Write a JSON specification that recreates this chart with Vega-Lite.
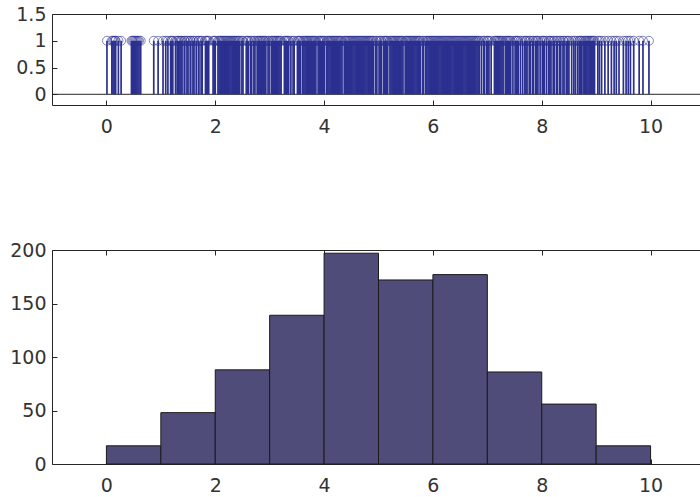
{
  "$schema": "https://vega.github.io/schema/vega-lite/v6.json",
  "autosize": {"type": "pad"},
  "padding": {"left": 9, "top": 4, "right": 0, "bottom": 0},
  "background": "white",
  "spacing": 145,
  "bounds": "flush",
  "datasets": {
    "stems": [
      {"x":0.01,"y":1},{"x":0.10,"y":1},{"x":0.12,"y":1},{"x":0.14,"y":1},{"x":0.16,"y":1},{"x":0.17,"y":1},{"x":0.22,"y":1},{"x":0.27,"y":1},{"x":0.46,"y":1},{"x":0.48,"y":1},{"x":0.50,"y":1},{"x":0.52,"y":1},{"x":0.54,"y":1},{"x":0.56,"y":1},{"x":0.58,"y":1},{"x":0.60,"y":1},{"x":0.63,"y":1},{"x":0.87,"y":1},{"x":0.95,"y":1},
      {"x":1.04,"y":1},{"x":1.09,"y":1},{"x":1.13,"y":1},{"x":1.18,"y":1},{"x":1.20,"y":1},{"x":1.22,"y":1},{"x":1.27,"y":1},{"x":1.30,"y":1},{"x":1.32,"y":1},{"x":1.35,"y":1},{"x":1.37,"y":1},{"x":1.39,"y":1},{"x":1.43,"y":1},{"x":1.44,"y":1},{"x":1.48,"y":1},{"x":1.50,"y":1},{"x":1.54,"y":1},{"x":1.55,"y":1},{"x":1.59,"y":1},{"x":1.61,"y":1},{"x":1.65,"y":1},{"x":1.69,"y":1},{"x":1.70,"y":1},{"x":1.74,"y":1},{"x":1.76,"y":1},{"x":1.82,"y":1},{"x":1.84,"y":1},{"x":1.86,"y":1},{"x":1.88,"y":1},{"x":1.96,"y":1},{"x":1.98,"y":1},{"x":2.00,"y":1},
      {"x":2.05,"y":1},{"x":2.07,"y":1},{"x":2.09,"y":1},{"x":2.11,"y":1},{"x":2.13,"y":1},{"x":2.15,"y":1},{"x":2.17,"y":1},{"x":2.19,"y":1},{"x":2.21,"y":1},{"x":2.23,"y":1},{"x":2.25,"y":1},{"x":2.27,"y":1},{"x":2.29,"y":1},{"x":2.31,"y":1},{"x":2.33,"y":1},{"x":2.35,"y":1},{"x":2.37,"y":1},{"x":2.39,"y":1},{"x":2.41,"y":1},{"x":2.43,"y":1},{"x":2.45,"y":1},{"x":2.49,"y":1},{"x":2.51,"y":1},{"x":2.57,"y":1},{"x":2.59,"y":1},{"x":2.61,"y":1},{"x":2.65,"y":1},{"x":2.67,"y":1},{"x":2.71,"y":1},{"x":2.73,"y":1},{"x":2.77,"y":1},{"x":2.79,"y":1},{"x":2.81,"y":1},{"x":2.83,"y":1},{"x":2.85,"y":1},{"x":2.87,"y":1},{"x":2.89,"y":1},{"x":2.91,"y":1},{"x":2.93,"y":1},{"x":2.97,"y":1},{"x":2.99,"y":1},
      {"x":3.03,"y":1},{"x":3.05,"y":1},{"x":3.07,"y":1},{"x":3.09,"y":1},{"x":3.11,"y":1},{"x":3.13,"y":1},{"x":3.15,"y":1},{"x":3.17,"y":1},{"x":3.19,"y":1},{"x":3.21,"y":1},{"x":3.27,"y":1},{"x":3.29,"y":1},{"x":3.31,"y":1},{"x":3.33,"y":1},{"x":3.35,"y":1},{"x":3.39,"y":1},{"x":3.43,"y":1},{"x":3.45,"y":1},{"x":3.51,"y":1},{"x":3.53,"y":1},{"x":3.55,"y":1},{"x":3.57,"y":1},{"x":3.61,"y":1},{"x":3.63,"y":1},{"x":3.65,"y":1},{"x":3.67,"y":1},{"x":3.69,"y":1},{"x":3.71,"y":1},{"x":3.73,"y":1},{"x":3.75,"y":1},{"x":3.77,"y":1},{"x":3.79,"y":1},{"x":3.81,"y":1},{"x":3.83,"y":1},{"x":3.85,"y":1},{"x":3.89,"y":1},{"x":3.91,"y":1},{"x":3.93,"y":1},{"x":3.95,"y":1},{"x":3.97,"y":1},{"x":3.99,"y":1},
      {"x":4.01,"y":1},{"x":4.05,"y":1},{"x":4.07,"y":1},{"x":4.09,"y":1},{"x":4.11,"y":1},{"x":4.13,"y":1},{"x":4.15,"y":1},{"x":4.17,"y":1},{"x":4.19,"y":1},{"x":4.21,"y":1},{"x":4.23,"y":1},{"x":4.25,"y":1},{"x":4.27,"y":1},{"x":4.29,"y":1},{"x":4.31,"y":1},{"x":4.33,"y":1},{"x":4.37,"y":1},{"x":4.39,"y":1},{"x":4.41,"y":1},{"x":4.43,"y":1},{"x":4.45,"y":1},{"x":4.47,"y":1},{"x":4.49,"y":1},{"x":4.51,"y":1},{"x":4.53,"y":1},{"x":4.55,"y":1},{"x":4.57,"y":1},{"x":4.59,"y":1},{"x":4.61,"y":1},{"x":4.63,"y":1},{"x":4.65,"y":1},{"x":4.67,"y":1},{"x":4.69,"y":1},{"x":4.71,"y":1},{"x":4.73,"y":1},{"x":4.75,"y":1},{"x":4.77,"y":1},{"x":4.79,"y":1},{"x":4.81,"y":1},{"x":4.83,"y":1},{"x":4.85,"y":1},{"x":4.87,"y":1},{"x":4.89,"y":1},{"x":4.91,"y":1},{"x":4.95,"y":1},{"x":4.97,"y":1},
      {"x":5.01,"y":1},{"x":5.03,"y":1},{"x":5.05,"y":1},{"x":5.09,"y":1},{"x":5.11,"y":1},{"x":5.13,"y":1},{"x":5.15,"y":1},{"x":5.17,"y":1},{"x":5.21,"y":1},{"x":5.23,"y":1},{"x":5.25,"y":1},{"x":5.27,"y":1},{"x":5.29,"y":1},{"x":5.31,"y":1},{"x":5.33,"y":1},{"x":5.35,"y":1},{"x":5.37,"y":1},{"x":5.39,"y":1},{"x":5.41,"y":1},{"x":5.43,"y":1},{"x":5.45,"y":1},{"x":5.49,"y":1},{"x":5.51,"y":1},{"x":5.53,"y":1},{"x":5.55,"y":1},{"x":5.57,"y":1},{"x":5.59,"y":1},{"x":5.61,"y":1},{"x":5.63,"y":1},{"x":5.65,"y":1},{"x":5.67,"y":1},{"x":5.69,"y":1},{"x":5.71,"y":1},{"x":5.73,"y":1},{"x":5.75,"y":1},{"x":5.77,"y":1},{"x":5.81,"y":1},{"x":5.83,"y":1},{"x":5.87,"y":1},{"x":5.89,"y":1},{"x":5.91,"y":1},{"x":5.93,"y":1},{"x":5.95,"y":1},{"x":5.97,"y":1},{"x":5.99,"y":1},
      {"x":6.01,"y":1},{"x":6.03,"y":1},{"x":6.05,"y":1},{"x":6.07,"y":1},{"x":6.09,"y":1},{"x":6.11,"y":1},{"x":6.13,"y":1},{"x":6.15,"y":1},{"x":6.17,"y":1},{"x":6.19,"y":1},{"x":6.21,"y":1},{"x":6.23,"y":1},{"x":6.25,"y":1},{"x":6.27,"y":1},{"x":6.29,"y":1},{"x":6.31,"y":1},{"x":6.33,"y":1},{"x":6.35,"y":1},{"x":6.37,"y":1},{"x":6.39,"y":1},{"x":6.41,"y":1},{"x":6.43,"y":1},{"x":6.45,"y":1},{"x":6.47,"y":1},{"x":6.49,"y":1},{"x":6.51,"y":1},{"x":6.53,"y":1},{"x":6.55,"y":1},{"x":6.57,"y":1},{"x":6.59,"y":1},{"x":6.61,"y":1},{"x":6.63,"y":1},{"x":6.65,"y":1},{"x":6.67,"y":1},{"x":6.69,"y":1},{"x":6.71,"y":1},{"x":6.73,"y":1},{"x":6.75,"y":1},{"x":6.77,"y":1},{"x":6.79,"y":1},{"x":6.81,"y":1},{"x":6.83,"y":1},{"x":6.85,"y":1},{"x":6.89,"y":1},{"x":6.93,"y":1},{"x":6.95,"y":1},{"x":6.99,"y":1},
      {"x":7.01,"y":1},{"x":7.03,"y":1},{"x":7.07,"y":1},{"x":7.13,"y":1},{"x":7.15,"y":1},{"x":7.17,"y":1},{"x":7.19,"y":1},{"x":7.21,"y":1},{"x":7.23,"y":1},{"x":7.25,"y":1},{"x":7.27,"y":1},{"x":7.29,"y":1},{"x":7.33,"y":1},{"x":7.35,"y":1},{"x":7.37,"y":1},{"x":7.39,"y":1},{"x":7.41,"y":1},{"x":7.43,"y":1},{"x":7.47,"y":1},{"x":7.51,"y":1},{"x":7.53,"y":1},{"x":7.55,"y":1},{"x":7.57,"y":1},{"x":7.61,"y":1},{"x":7.65,"y":1},{"x":7.69,"y":1},{"x":7.71,"y":1},{"x":7.73,"y":1},{"x":7.77,"y":1},{"x":7.79,"y":1},{"x":7.83,"y":1},{"x":7.85,"y":1},{"x":7.89,"y":1},{"x":7.91,"y":1},{"x":7.93,"y":1},{"x":7.97,"y":1},
      {"x":8.01,"y":1},{"x":8.03,"y":1},{"x":8.05,"y":1},{"x":8.09,"y":1},{"x":8.13,"y":1},{"x":8.15,"y":1},{"x":8.17,"y":1},{"x":8.21,"y":1},{"x":8.23,"y":1},{"x":8.27,"y":1},{"x":8.29,"y":1},{"x":8.33,"y":1},{"x":8.35,"y":1},{"x":8.39,"y":1},{"x":8.41,"y":1},{"x":8.45,"y":1},{"x":8.48,"y":1},{"x":8.50,"y":1},{"x":8.55,"y":1},{"x":8.59,"y":1},{"x":8.62,"y":1},{"x":8.66,"y":1},{"x":8.69,"y":1},{"x":8.71,"y":1},{"x":8.73,"y":1},{"x":8.76,"y":1},{"x":8.79,"y":1},{"x":8.81,"y":1},{"x":8.83,"y":1},{"x":8.85,"y":1},{"x":8.87,"y":1},{"x":8.89,"y":1},{"x":8.91,"y":1},{"x":8.93,"y":1},{"x":8.95,"y":1},{"x":8.97,"y":1},
      {"x":9.03,"y":1},{"x":9.06,"y":1},{"x":9.10,"y":1},{"x":9.16,"y":1},{"x":9.22,"y":1},{"x":9.28,"y":1},{"x":9.33,"y":1},{"x":9.37,"y":1},{"x":9.42,"y":1},{"x":9.50,"y":1},{"x":9.55,"y":1},{"x":9.59,"y":1},{"x":9.63,"y":1},{"x":9.69,"y":1},{"x":9.79,"y":1},{"x":9.86,"y":1},{"x":9.97,"y":1}
    ],
    "hist": [
      {"bin_start":0,"bin_end":1,"count":17},
      {"bin_start":1,"bin_end":2,"count":48},
      {"bin_start":2,"bin_end":3,"count":88},
      {"bin_start":3,"bin_end":4,"count":139},
      {"bin_start":4,"bin_end":5,"count":197},
      {"bin_start":5,"bin_end":6,"count":172},
      {"bin_start":6,"bin_end":7,"count":177},
      {"bin_start":7,"bin_end":8,"count":86},
      {"bin_start":8,"bin_end":9,"count":56},
      {"bin_start":9,"bin_end":10,"count":17}
    ]
  },
  "config": {
    "view": {"stroke": "#262626", "strokeWidth": 1},
    "axis": {"grid": false, "domain": false, "tickSize": -5, "tickColor": "#262626", "tickWidth": 1, "labelFont": "DejaVu Sans", "labelFontSize": 19, "labelColor": "#333333"},
    "axisX": {"labelPadding": 17},
    "axisY": {"labelPadding": 11}
  },
  "vconcat": [
    {
      "width": 653,
      "height": 91,
      "layer": [
        {
          "data": {"values": [{"baseline": 0}]},
          "mark": {"type": "rule", "color": "#262626", "strokeWidth": 1},
          "encoding": {"y": {"field": "baseline", "type": "quantitative", "scale": {"domain": [-0.2, 1.5], "nice": false, "zero": false}, "axis": null}}
        },
        {
          "data": {"name": "stems"},
          "mark": {"type": "rule", "color": "#2B3090", "strokeWidth": 1.7},
          "encoding": {
            "x": {"field": "x", "type": "quantitative", "scale": {"domain": [-1, 11], "nice": false, "zero": false}, "axis": {"orient": "bottom", "values": [0, 2, 4, 6, 8, 10], "title": null}},
            "y": {"field": "y", "type": "quantitative", "scale": {"domain": [-0.2, 1.5], "nice": false, "zero": false}, "axis": {"orient": "left", "values": [0, 0.5, 1, 1.5], "format": "~g", "title": null}},
            "y2": {"datum": 0}
          }
        },
        {
          "data": {"name": "stems"},
          "mark": {"type": "point", "shape": "circle", "filled": false, "size": 80, "stroke": "#2B3090", "strokeWidth": 1, "opacity": 0.6},
          "encoding": {
            "x": {"field": "x", "type": "quantitative", "axis": {"orient": "top", "values": [0, 2, 4, 6, 8, 10], "labels": false, "title": null}},
            "y": {"field": "y", "type": "quantitative", "axis": {"orient": "right", "values": [0, 0.5, 1, 1.5], "labels": false, "title": null}}
          }
        }
      ],
      "resolve": {"axis": {"x": "independent", "y": "independent"}}
    },
    {
      "width": 653,
      "height": 214,
      "data": {"name": "hist"},
      "layer": [
        {
          "mark": {"type": "bar", "fill": "#504C7A", "stroke": "#1A1A1A", "strokeWidth": 1},
          "encoding": {
            "x": {"field": "bin_start", "type": "quantitative", "scale": {"domain": [-1, 11], "nice": false, "zero": false}, "axis": {"orient": "bottom", "values": [0, 2, 4, 6, 8, 10], "title": null}},
            "x2": {"field": "bin_end"},
            "y": {"field": "count", "type": "quantitative", "scale": {"domain": [0, 200], "nice": false}, "axis": {"orient": "left", "values": [0, 50, 100, 150, 200], "title": null}},
            "y2": {"datum": 0}
          }
        },
        {
          "mark": {"type": "bar", "opacity": 0},
          "encoding": {
            "x": {"field": "bin_start", "type": "quantitative", "axis": {"orient": "top", "values": [0, 2, 4, 6, 8, 10], "labels": false, "title": null}},
            "x2": {"field": "bin_end"},
            "y": {"field": "count", "type": "quantitative", "axis": {"orient": "right", "values": [0, 50, 100, 150, 200], "labels": false, "title": null}},
            "y2": {"datum": 0}
          }
        }
      ],
      "resolve": {"axis": {"x": "independent", "y": "independent"}}
    }
  ]
}
